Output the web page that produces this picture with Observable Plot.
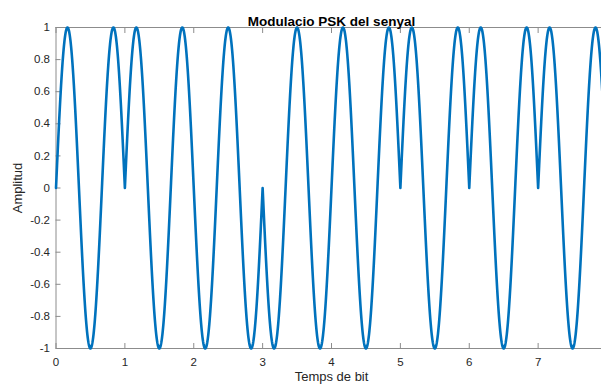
<!DOCTYPE html>
<html>
<head>
<meta charset="utf-8">
<script src="https://cdn.jsdelivr.net/npm/d3@7"></script>
<script src="https://cdn.jsdelivr.net/npm/@observablehq/plot@0.6"></script>
<style>
  html, body { margin: 0; padding: 0; background: #fff; }
  #chart svg { display: block; overflow: hidden; }
</style>
</head>
<body>
<div id="chart"></div>
<script>
// Bits (1 → phase 0, 0 → phase π)
const bits = [1, 1, 0, 0, 1, 1, 1, 1];
// Carrier cycles per bit (1.5 periods per bit)
const cyclesPerBit = 1.5;
const samplesPerBit = 200;
const xTicks = [0, 1, 2, 3, 4, 5, 6, 7, 8];
const yTicks = [-1, -0.8, -0.6, -0.4, -0.2, 0, 0.2, 0.4, 0.6, 0.8, 1];
const title = "Modulacio PSK del senyal";
const xLabel = "Temps de bit";
const yLabel = "Amplitud";

const signal = [];
bits.forEach((b, k) => {
  const sign = b ? 1 : -1;
  for (let i = 0; i <= samplesPerBit; i++) {
    const tau = i / samplesPerBit;
    signal.push({t: k + tau, a: sign * Math.sin(2 * Math.PI * cyclesPerBit * tau)});
  }
});

const axisColor = "#8c8c8c";
const textColor = "#262626";
const fmt = d => String(d);

const chart = Plot.plot({
  width: 601,
  height: 385,
  marginLeft: 55.5,
  marginRight: -5.5,
  marginTop: 27,
  marginBottom: 37,
  style: {fontFamily: "'Liberation Sans', Arial, sans-serif", fontSize: "11px", color: textColor},
  x: {domain: [0, 8], range: [55.5, 606.5]},
  y: {domain: [-1, 1], range: [348, 27]},
  marks: [
    Plot.ruleY([1, -1], {stroke: axisColor, strokeWidth: 1}),
    Plot.ruleX([0, 8], {stroke: axisColor, strokeWidth: 1}),
    Plot.axisX({anchor: "bottom", ticks: xTicks, tickSize: -5, stroke: axisColor, tickFormat: () => "", label: null}),
    Plot.axisX({anchor: "top", ticks: xTicks, tickSize: -5, stroke: axisColor, tickFormat: () => "", label: null}),
    Plot.axisY({anchor: "left", ticks: yTicks, tickSize: -5, stroke: axisColor, tickFormat: () => "", label: null}),
    Plot.axisY({anchor: "right", ticks: yTicks, tickSize: -5, stroke: axisColor, tickFormat: () => "", label: null}),
    Plot.axisX({anchor: "bottom", ticks: xTicks.filter(d => d < 8), tickSize: 0, tickPadding: 9, fill: textColor, fontSize: 11.5, label: null}),
    Plot.axisY({anchor: "left", ticks: yTicks, tickSize: 0, tickPadding: 6, fill: textColor, fontSize: 11.5, tickFormat: fmt, label: null}),
    Plot.line(signal, {x: "t", y: "a", stroke: "#0072BD", strokeWidth: 2.6, curve: "linear"}),
    Plot.text([title], {frameAnchor: "top", dy: -11, fontWeight: "bold", fontSize: 13.5, fill: "#000"}),
    Plot.text([xLabel], {frameAnchor: "bottom", dy: 32, fontSize: 13, fill: textColor}),
    Plot.text([yLabel], {frameAnchor: "left", textAnchor: "middle", dx: -38, rotate: -90, fontSize: 13, fill: textColor})
  ]
});
document.getElementById("chart").appendChild(chart);
</script>
</body>
</html>
